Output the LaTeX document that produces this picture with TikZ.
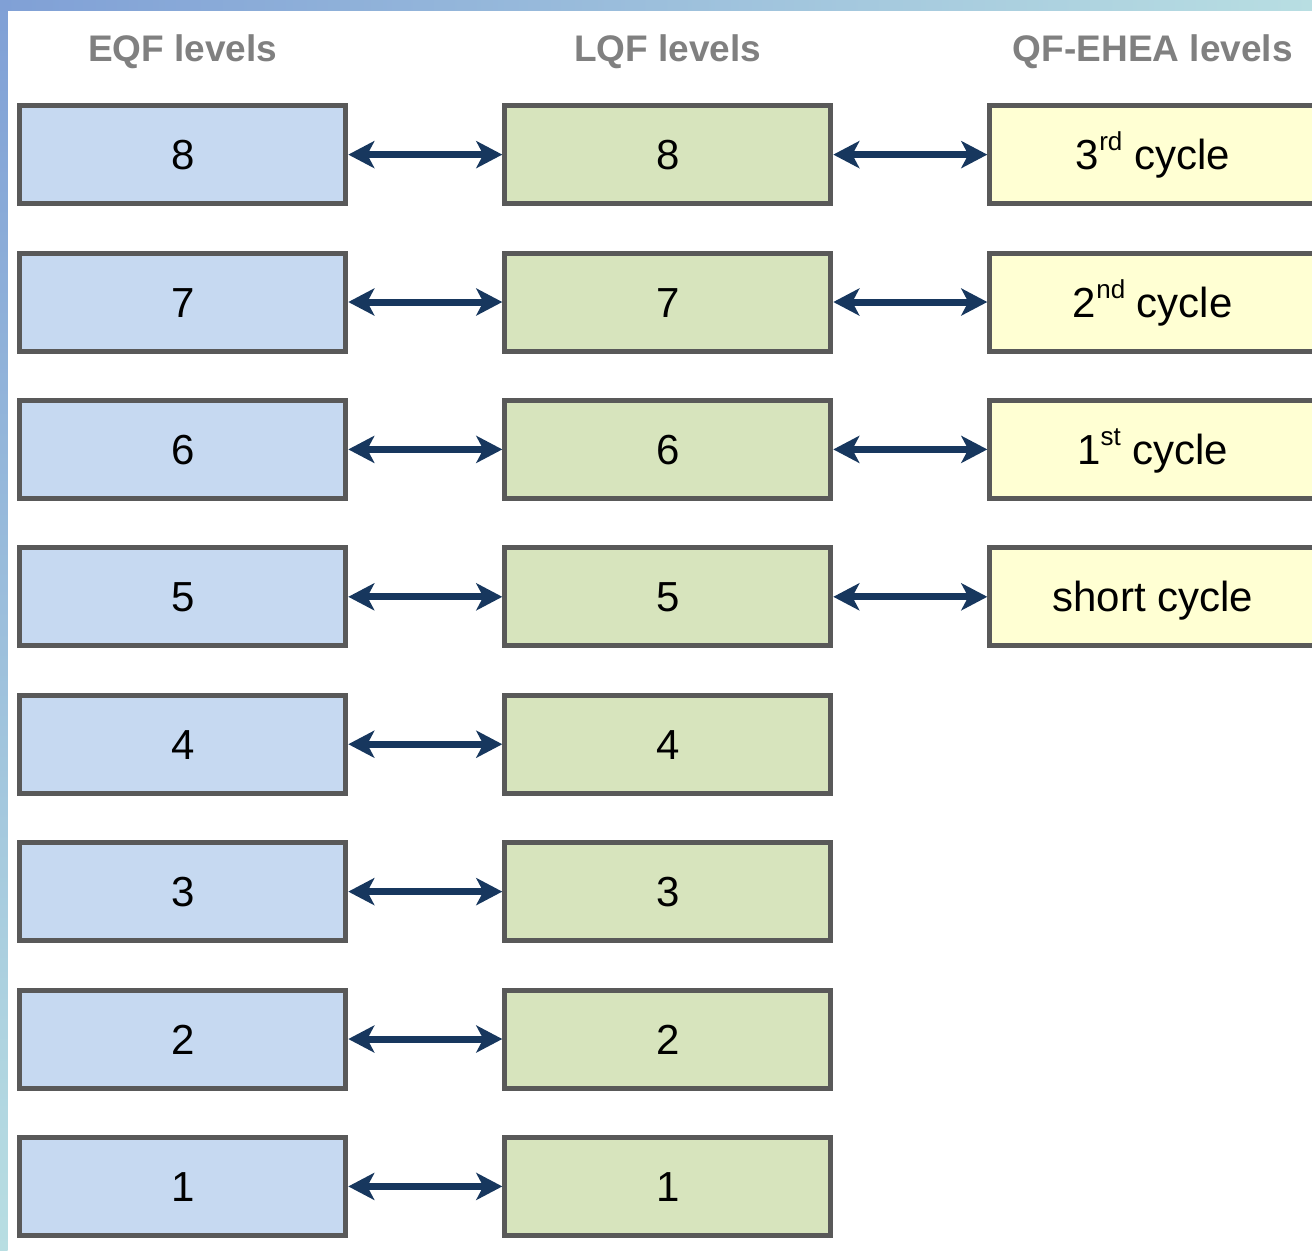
\documentclass[tikz,border=0pt]{standalone}
\usepackage{fontspec}
\setmainfont{Liberation Sans}
\usetikzlibrary{arrows.meta,positioning}
\definecolor{eqfblue}{HTML}{C6D9F1}
\definecolor{lqfgreen}{HTML}{D7E4BD}
\definecolor{eheayellow}{HTML}{FFFFD3}
\definecolor{rim}{HTML}{595959}
\definecolor{navy}{HTML}{17375E}
\definecolor{stripblue}{HTML}{80A0D6}
\definecolor{stripcyan}{HTML}{B8DEE2}
\newcommand{\ordsup}[1]{\raisebox{0.45em}{\fontsize{13}{14}\selectfont #1}}
\tikzset{
    >={Stealth[length=13pt,width=13.5pt,inset=3.5pt]},
    level/.style={
           rectangle,
           draw=rim, line width=2.5pt,
           minimum width=163pt,
           minimum height=49pt,
           inner sep=0pt,
           text height=15pt, text depth=0pt,
           font=\fontsize{21}{24}\selectfont,
           text centered},
    eqf/.style={level, fill=eqfblue},
    lqf/.style={level, fill=lqfgreen},
    ehea/.style={level, fill=eheayellow},
    head/.style={
           inner sep=0pt,
           text=gray,
           font=\fontsize{18.5}{22}\selectfont\bfseries},
    pil/.style={
           <->,
           draw=navy,
           line width=3.5pt}
}

\begin{document}
\begin{tikzpicture}[node distance=22.2pt and 77pt]
        \useasboundingbox (0,0) rectangle (656pt,-625pt);
        \clip (0,0) rectangle (656pt,-625pt);
        \shade[left color=stripblue, right color=stripcyan] (0,0) rectangle (656pt,-5.3pt);
        \shade[top color=stripblue, bottom color=stripcyan] (0,0) rectangle (3.8pt,-625pt);

        \node[eqf] (eqf8) at (91.4pt,-77.3pt) {8};
        \node[eqf, below=of eqf8] (eqf7) {7};
        \node[eqf, below=of eqf7] (eqf6) {6};
        \node[eqf, below=of eqf6] (eqf5) {5};
        \node[eqf, below=of eqf5] (eqf4) {4};
        \node[eqf, below=of eqf4] (eqf3) {3};
        \node[eqf, below=of eqf3] (eqf2) {2};
        \node[eqf, below=of eqf2] (eqf1) {1};

        \node[lqf, right=of eqf8] (lqf8) {8};
        \node[lqf, right=of eqf7] (lqf7) {7};
        \node[lqf, right=of eqf6] (lqf6) {6};
        \node[lqf, right=of eqf5] (lqf5) {5};
        \node[lqf, right=of eqf4] (lqf4) {4};
        \node[lqf, right=of eqf3] (lqf3) {3};
        \node[lqf, right=of eqf2] (lqf2) {2};
        \node[lqf, right=of eqf1] (lqf1) {1};

        \node[ehea, right=of lqf8] (cyc3) {3\ordsup{rd} cycle};
        \node[ehea, right=of lqf7] (cyc2) {2\ordsup{nd} cycle};
        \node[ehea, right=of lqf6] (cyc1) {1\ordsup{st} cycle};
        \node[ehea, right=of lqf5] (short) {short cycle};

        \node[head, above=17pt of eqf8] (eqfhead) {EQF levels};
        \node[head, above=17pt of lqf8] (lqfhead) {LQF levels};
        \node[head, above=17pt of cyc3] (eheahead) {QF-EHEA levels};

        \draw[pil] (eqf8) -- (lqf8);
        \draw[pil] (eqf7) -- (lqf7);
        \draw[pil] (eqf6) -- (lqf6);
        \draw[pil] (eqf5) -- (lqf5);
        \draw[pil] (eqf4) -- (lqf4);
        \draw[pil] (eqf3) -- (lqf3);
        \draw[pil] (eqf2) -- (lqf2);
        \draw[pil] (eqf1) -- (lqf1);

        \draw[pil] (lqf8) -- (cyc3);
        \draw[pil] (lqf7) -- (cyc2);
        \draw[pil] (lqf6) -- (cyc1);
        \draw[pil] (lqf5) -- (short);

    \end{tikzpicture}
\end{document}
